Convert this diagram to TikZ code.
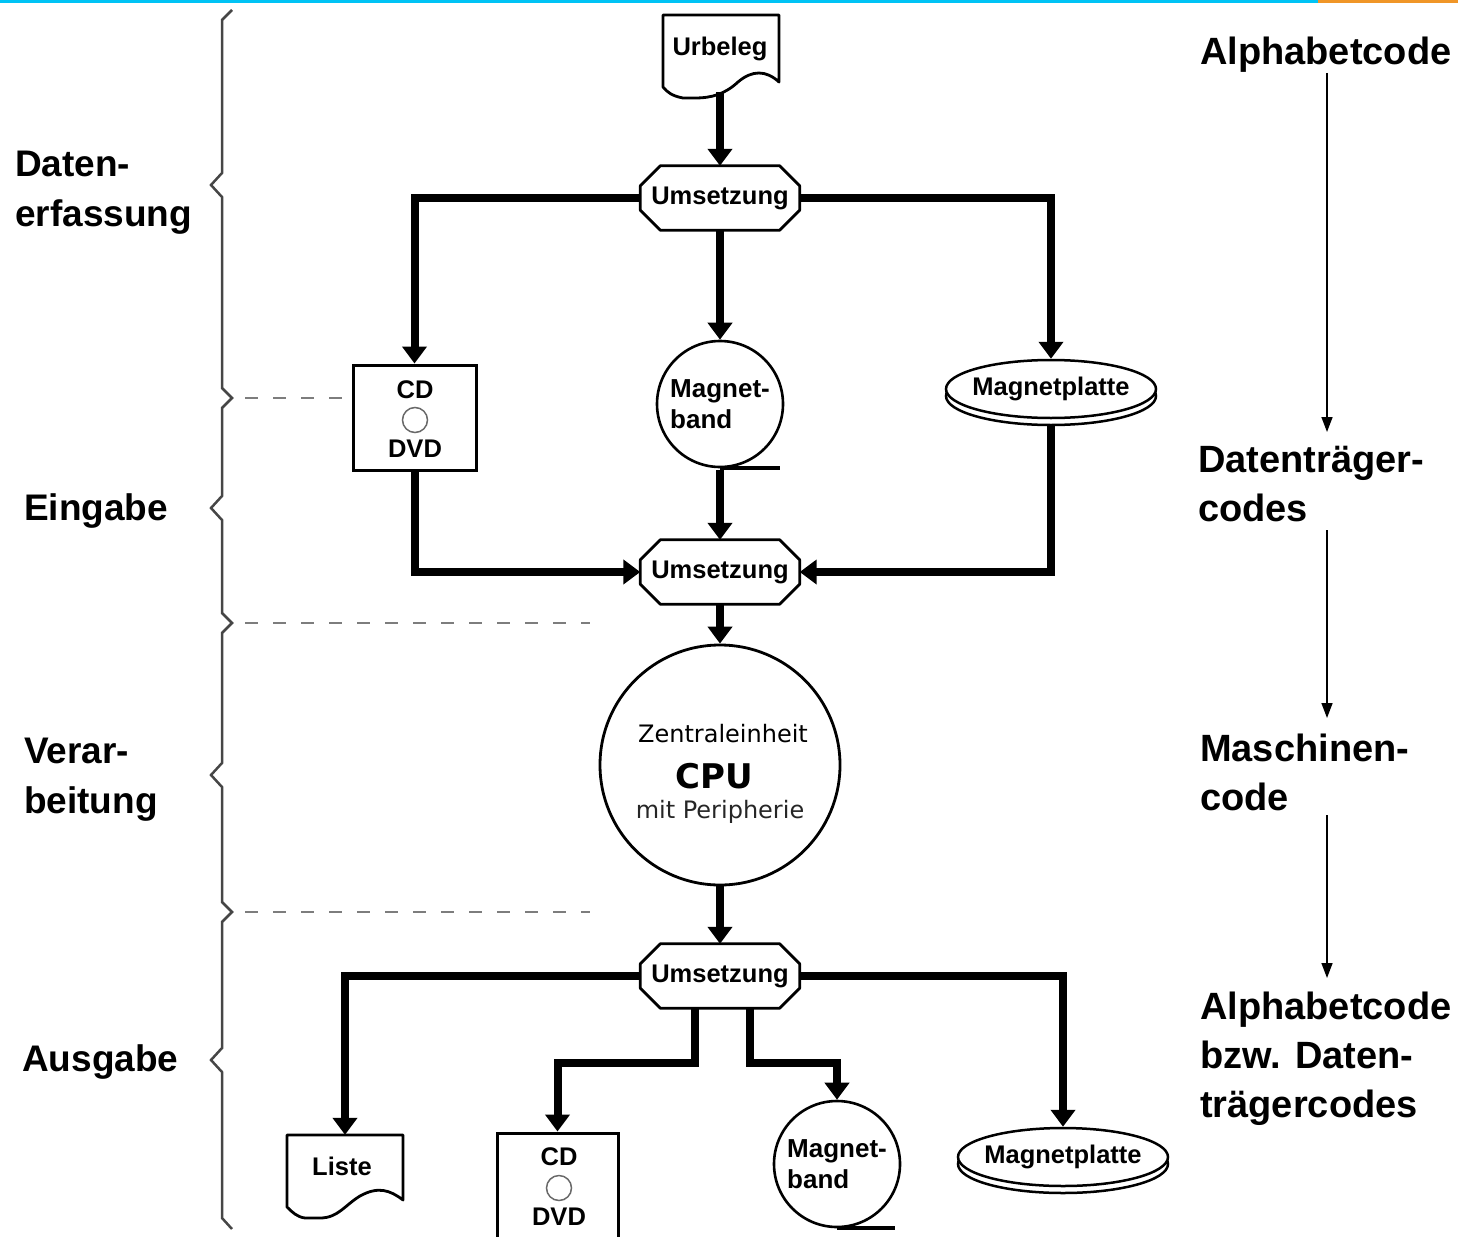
\documentclass[tikz,border=0pt]{standalone}
\usepackage{fontspec}
\setmainfont{Liberation Sans}
\newfontfamily\cpufont{DejaVu Sans}
\usetikzlibrary{arrows.meta,shapes.geometric}
\definecolor{topcyan}{RGB}{0,195,245}
\definecolor{toporange}{RGB}{240,150,40}
\definecolor{bracegray}{RGB}{70,70,70}
\definecolor{dashgray}{RGB}{125,125,125}
\definecolor{discgray}{RGB}{105,105,105}
\begin{document}
\begin{tikzpicture}[x=1pt,y=-1pt,
  flow/.style={line width=8pt,-{Triangle[width=24pt,length=17pt]}},
  thinflow/.style={line width=1.5pt,-{Triangle[width=11pt,length=15pt]}},
  outline/.style={line width=2.8pt,line join=round},
  nodefont/.style={font=\bfseries\fontsize{25.5}{30}\selectfont},
  convbox/.style={nodefont,minimum width=159pt,minimum height=64pt,inner sep=0pt},
  shapebox/.style={minimum width=#1,inner sep=0pt},
  cdbox/.style={draw,line width=3pt,minimum width=123pt,inner sep=0pt},
  cdtext/.style={nodefont,inner sep=0pt},
  disc/.style={circle,draw=discgray,line width=1.5pt,minimum size=25pt,inner sep=0pt},
  tape/.style={circle,draw,line width=2.6pt,fill=white,minimum size=126pt,inner sep=0pt,
    align=left,font=\bfseries\fontsize{26}{31}\selectfont},
  plate/.style={ellipse,draw,line width=2.5pt,fill=white,minimum width=210pt,
    minimum height=58pt,inner sep=0pt,nodefont},
  sidelabel/.style={anchor=base west,inner sep=0pt,align=left,
    font=\bfseries\fontsize{37}{50}\selectfont},
  codelabel/.style={anchor=base west,inner sep=0pt,align=left,
    font=\bfseries\fontsize{38}{49}\selectfont},
  brace/.style={draw=bracegray,line width=2.5pt,line join=miter},
  phase/.style={draw=dashgray,line width=2.5pt,dash pattern=on 13pt off 15pt},
]
\useasboundingbox (0,0) rectangle (1458,1236);
\clip (0,0) rectangle (1458,1236);

% top rule
\fill[topcyan] (0,0) rectangle (1318,3);
\fill[toporange] (1318,0) rectangle (1458,3);

% phase brace on the left
\draw[brace] (232,10) -- (222,20) -- (222,173) -- (211,185) -- (222,197)
  -- (222,388) -- (232,398) -- (222,408) -- (222,496) -- (211,508) -- (222,520)
  -- (222,613) -- (232,623) -- (222,633) -- (222,763) -- (211,775) -- (222,787)
  -- (222,902) -- (232,912) -- (222,922) -- (222,1048) -- (211,1060) -- (222,1072)
  -- (222,1218) -- (232,1229);

% phase separators
\draw[phase] (245,398) -- (345,398);
\draw[phase] (245,623) -- (590,623);
\draw[phase] (245,912) -- (590,912);

% phase names (anchor = baseline of the last line)
\node[sidelabel] (pA) at (15,226) {Daten-\\erfassung};
\node[sidelabel] (pB) at (24,520) {Eingabe};
\node[sidelabel] (pC) at (24,813) {Verar-\\beitung};
\node[sidelabel] (pD) at (22,1071) {Ausgabe};

% code names on the right
\node[codelabel] (cA) at (1200,65) {Alphabetcode};
\node[codelabel] (cB) at (1198,521) {Datenträger-\\codes};
\node[codelabel] (cC) at (1200,810) {Maschinen-\\code};
\node[codelabel] (cD) at (1200,1117) {Alphabetcode\\bzw. Daten-\\trägercodes};
\coordinate (k1) at (1327,73);  \coordinate (k2) at (1327,432);
\coordinate (k3) at (1327,530); \coordinate (k4) at (1327,718);
\coordinate (k5) at (1327,815); \coordinate (k6) at (1327,978);
\draw[thinflow] (k1) -- (k2);
\draw[thinflow] (k3) -- (k4);
\draw[thinflow] (k5) -- (k6);

% source document
\node[shapebox=116pt,minimum height=77pt] (ub) at (720,53.5) {};
\draw[outline] (663,15) -- (779,15) -- (779,82)
  .. controls (766,70) and (752,70) .. (738,82)
  .. controls (725,94) and (712,98) .. (695,98) -- (683,98)
  .. controls (672,96) and (667,92) .. (663,87) -- cycle;
\node[nodefont,anchor=base,inner sep=0pt] (ubt) at (720,56) {Urbeleg};

% conversion stages
\node[convbox] (u1) at (720,198) {Umsetzung};
\node[convbox] (u2) at (720,572) {Umsetzung};
\node[convbox] (u3) at (720,976) {Umsetzung};
\foreach \n in {u1,u2,u3}
  \draw[outline] ([xshift=20pt]\n.north west) -- ([xshift=-20pt]\n.north east)
    -- ([yshift=-20pt]\n.north east) -- ([yshift=20pt]\n.south east)
    -- ([xshift=-20pt]\n.south east) -- ([xshift=20pt]\n.south west)
    -- ([yshift=20pt]\n.south west) -- ([yshift=-20pt]\n.north west) -- cycle;

% input media
\node[cdbox,minimum height=105pt] (cd1) at (414.5,417.5) {};
\node[cdtext] (cd1a) at (415,390) {CD};
\node[disc] (cd1d) at (415,420) {};
\node[cdtext] (cd1b) at (415,449) {DVD};

\node[tape] (mb1) at (720,404) {Magnet-\\band};
\draw[line width=4pt] (mb1.south) -- ([xshift=60pt]mb1.south);

\node[plate] (mp1r) at (1051,396) {};
\node[plate] (mp1) at (1051,389) {\makebox[0pt]{Magnetplatte}};

% central unit
\node[circle,draw,line width=2.8pt,minimum size=240pt,inner sep=0pt] (cpu) at (720,765) {};
\node[anchor=base,inner sep=0pt,font=\cpufont\fontsize{24}{28}\selectfont] (cpuA) at (723,742) {Zentraleinheit};
\node[anchor=base,inner sep=0pt,font=\cpufont\bfseries\fontsize{34}{38}\selectfont] (cpuB) at (714,788) {CPU};
\node[anchor=base,inner sep=0pt,font=\cpufont\fontsize{24}{28}\selectfont,text=black!85] (cpuC) at (720,818) {mit Peripherie};

% output media
\node[shapebox=116pt,minimum height=83pt] (li) at (345,1176.5) {};
\draw[outline] (287,1135) -- (403,1135) -- (403,1200)
  .. controls (390,1190) and (378,1186) .. (360,1196)
  .. controls (345,1205) and (338,1218) .. (320,1218) -- (305,1218)
  .. controls (297,1217) and (292,1212) .. (287,1207) -- cycle;
\node[nodefont,anchor=base,inner sep=0pt] (lit) at (342,1175) {Liste};

\node[cdbox,minimum width=121pt,minimum height=110pt] (cd2) at (557.5,1188) {};
\node[cdtext] (cd2a) at (559,1157) {CD};
\node[disc] (cd2d) at (559,1188) {};
\node[cdtext] (cd2b) at (559,1217) {DVD};

\node[tape] (mb2) at (837,1164) {Magnet-\\band};
\draw[line width=4pt] (mb2.south) -- ([xshift=58pt]mb2.south);

\node[plate] (mp2r) at (1063,1164) {};
\node[plate] (mp2) at (1063,1157) {\makebox[0pt]{Magnetplatte}};

% data flow
\draw[flow] (ub.south) -- (u1.north);
\draw[flow] (u1.west) -| (cd1.north);
\draw[flow] (u1.south) -- (mb1.north);
\draw[flow] (u1.east) -| (mp1.north);
\draw[flow] (cd1.south) |- (u2.west);
\draw[flow] ([yshift=-2pt]mb1.south) -- (u2.north);
\draw[flow] (mp1r.south) |- (u2.east);
\draw[flow] (u2.south) -- (cpu.north);
\draw[flow] (cpu.south) -- (u3.north);
\draw[flow] (u3.west) -| (li.north);
\draw[flow] (u3.east) -| (mp2.north);
\draw[flow] ([xshift=-25pt]u3.south) -- ++(0,55) -| (cd2.north);
\draw[flow] ([xshift=30pt]u3.south) -- ++(0,55) -| (mb2.north);
\end{tikzpicture}
\end{document}
